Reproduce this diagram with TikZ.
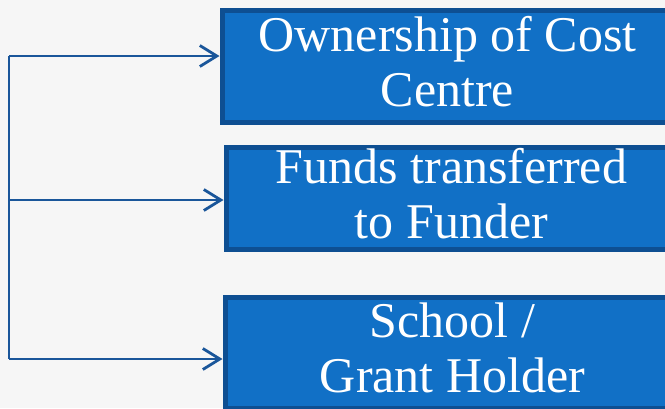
\documentclass[tikz,border=0pt]{standalone}
\usepackage{fontspec}
\setmainfont{Liberation Serif}
\usepackage{xcolor}
\usetikzlibrary{arrows.meta,positioning}

\definecolor{boxblue}{HTML}{1170C6}
\definecolor{boxedge}{HTML}{0E4F92}
\definecolor{linkblue}{HTML}{1A569A}
\definecolor{slide}{HTML}{F6F6F6}

\begin{document}
\begin{tikzpicture}[
   x=1pt,y=-1pt,
   >={Straight Barb[length=17pt,width=21pt]},
   box/.style={draw=boxedge,fill=boxblue,line width=5pt,anchor=north west,
               minimum width=451pt,minimum height=112pt,inner sep=0pt,
               text=white,align=center,font=\fontsize{50}{55}\selectfont,
               execute at end node={\rule[-9pt]{0pt}{0pt}}},
   link/.style={linkblue,line width=2.8pt}
  ]
  \useasboundingbox (0,0) rectangle (665,408);
  \fill[slide] (0,0) rectangle (665,408);
  \clip (0,0) rectangle (665,408);

  \node[box] (cost) at (219.5,7.5) {Ownership of Cost\\Centre};
  \node[box,minimum height=102pt] (funds) at (223.5,144.5) {Funds transferred\\to Funder};
  \node[box,minimum width=455pt,minimum height=111pt] (school) at (222.5,294.5) {School /\\Grant Holder};

  % trunk on the left
  \coordinate (top) at (9,56);
  \coordinate (mid) at (9,200);
  \coordinate (bot) at (9,359);
  \draw[link] (top) -- (bot);

  \draw[link,->] (top) -- (cost.west |- top);
  \draw[link,->] (mid) -- (funds.west |- mid);
  \draw[link,->] (bot) -- (school.west |- bot);
\end{tikzpicture}
\end{document}
